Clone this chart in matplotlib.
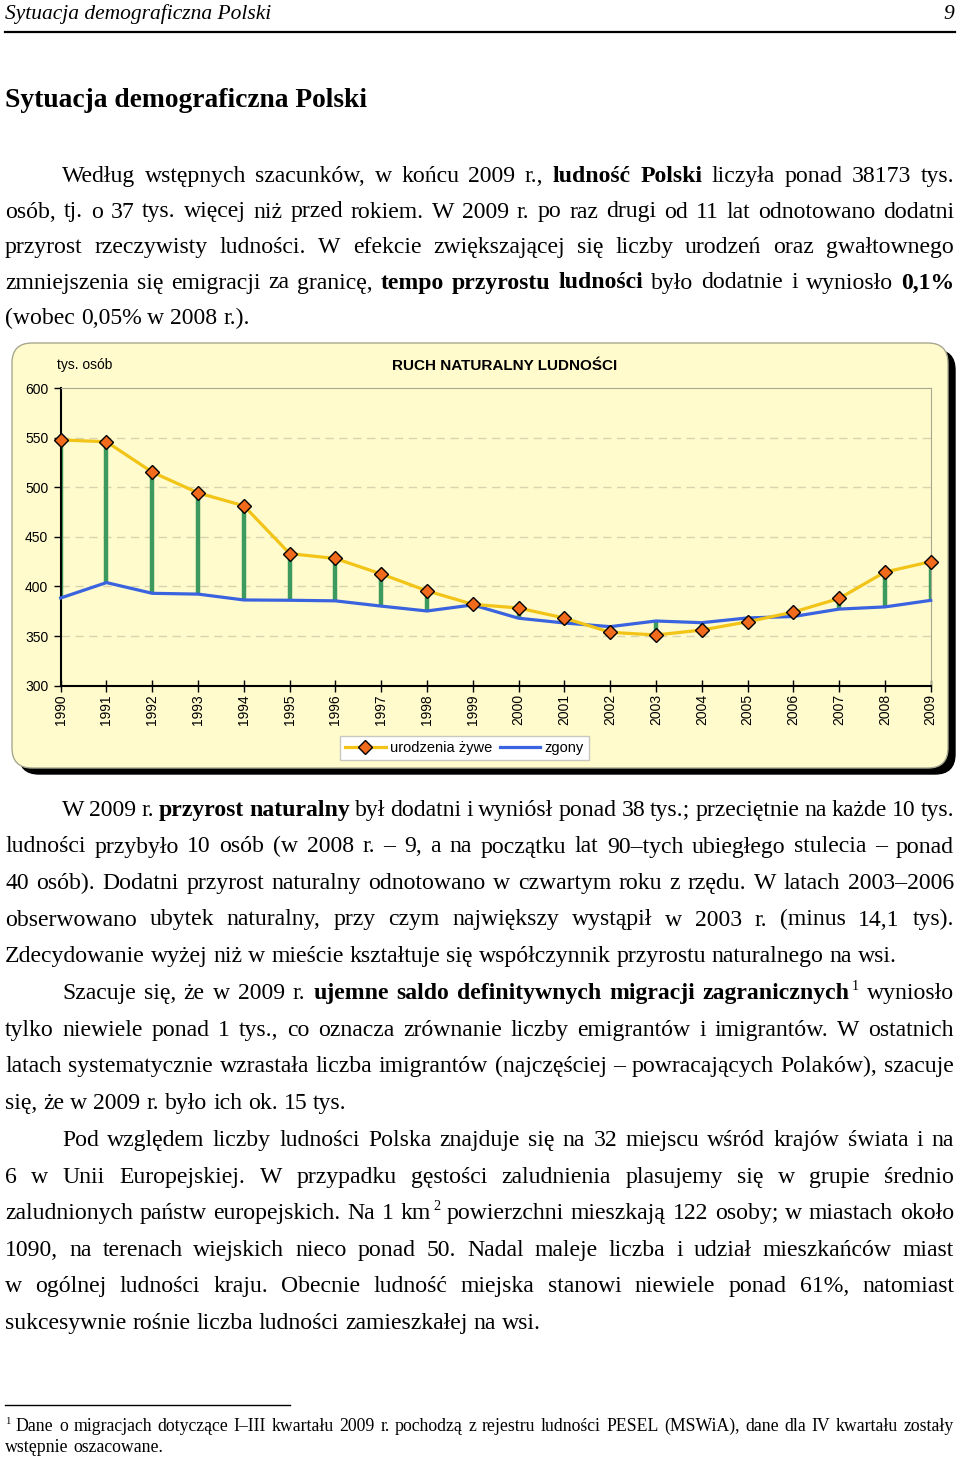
import matplotlib
matplotlib.use("Agg")
import matplotlib.pyplot as plt
from matplotlib.patches import FancyBboxPatch
from matplotlib.lines import Line2D

lata = list(range(1990, 2010))
urodzenia = [547.7, 545.8, 515.2, 494.3, 481.3, 433.1, 428.2, 412.6, 395.6, 382.0,
             378.3, 368.2, 353.8, 351.1, 356.1, 364.4, 374.2, 387.9, 414.5, 425.0]
zgony = [388.4, 403.9, 393.1, 392.3, 386.4, 386.1, 385.5, 380.2, 375.3, 381.4,
         368.0, 363.2, 359.5, 365.2, 363.5, 368.3, 369.7, 377.2, 379.4, 386.0]
y_ticki = [300, 350, 400, 450, 500, 550, 600]

akapit1 = [
    "Według wstępnych szacunków, w końcu 2009 r., **ludność Polski** liczyła ponad 38173 tys.",
    "osób, tj. o 37 tys. więcej niż przed rokiem. W 2009 r. po raz drugi od 11 lat odnotowano dodatni",
    "przyrost rzeczywisty ludności. W efekcie zwiększającej się liczby urodzeń oraz gwałtownego",
    "zmniejszenia się emigracji za granicę, **tempo przyrostu ludności** było dodatnie i wyniosło **0,1%**",
    "(wobec 0,05% w 2008 r.).",
]
akapit2 = [
    "W 2009 r. **przyrost naturalny** był dodatni i wyniósł ponad 38 tys.; przeciętnie na każde 10 tys.",
    "ludności przybyło 10 osób (w 2008 r. – 9, a na początku lat 90–tych ubiegłego stulecia – ponad",
    "40 osób). Dodatni przyrost naturalny odnotowano w czwartym roku z rzędu. W latach 2003–2006",
    "obserwowano ubytek naturalny, przy czym największy wystąpił w 2003 r. (minus 14,1 tys).",
    "Zdecydowanie wyżej niż w mieście kształtuje się współczynnik przyrostu naturalnego na wsi.",
]
akapit3 = [
    "Szacuje się, że w 2009 r. **ujemne saldo definitywnych migracji zagranicznych** ^1 wyniosło",
    "tylko niewiele ponad 1 tys., co oznacza zrównanie liczby emigrantów i imigrantów. W ostatnich",
    "latach systematycznie wzrastała liczba imigrantów (najczęściej – powracających Polaków), szacuje",
    "się, że w 2009 r. było ich ok. 15 tys.",
]
akapit4 = [
    "Pod względem liczby ludności Polska znajduje się na 32 miejscu wśród krajów świata i na",
    "6 w Unii Europejskiej. W przypadku gęstości zaludnienia plasujemy się w grupie średnio",
    "zaludnionych państw europejskich. Na 1 km ^2 powierzchni mieszkają 122 osoby; w miastach około",
    "1090, na terenach wiejskich nieco ponad 50. Nadal maleje liczba i udział mieszkańców miast",
    "w ogólnej ludności kraju. Obecnie ludność miejska stanowi niewiele ponad 61%, natomiast",
    "sukcesywnie rośnie liczba ludności zamieszkałej na wsi.",
]
przypis = [
    "^1 Dane o migracjach dotyczące I–III kwartału 2009 r. pochodzą z rejestru ludności PESEL (MSWiA), dane dla IV kwartału zostały",
    "wstępnie oszacowane.",
]

fig = plt.figure(figsize=(9.6, 14.59), dpi=100)
fig.patch.set_facecolor("white")
page = fig.add_axes([0, 0, 1, 1])
page.set_xlim(0, 960)
page.set_ylim(1459, 0)
page.axis("off")
renderer = fig.canvas.get_renderer()

SERIF = "Liberation Serif"


def linia(tekst, y, x0, x1, size, justuj=True):
    slowa = []
    czesci = tekst.split("**")
    for i, c in enumerate(czesci):
        for w in c.split():
            slowa.append((w, i % 2 == 1))
    arts = []
    for w, b in slowa:
        if w.startswith("^"):
            t = page.text(0, y - size * 0.55, w[1:], fontsize=size * 0.6,
                          family=SERIF, va="baseline", ha="left")
            arts.append((t, True))
        else:
            t = page.text(0, y, w, fontsize=size, family=SERIF,
                          fontweight="bold" if b else "normal",
                          va="baseline", ha="left")
            arts.append((t, False))
    szer = [t.get_window_extent(renderer).width for t, _ in arts]
    n_gap = sum(1 for _, sup in arts[1:] if not sup)
    n_sup = sum(1 for _, sup in arts[1:] if sup)
    spacja = 0.25 * size * 100 / 72
    if justuj and n_gap > 0:
        gap = (x1 - x0 - sum(szer) - 2 * n_sup) / n_gap
    else:
        gap = spacja
    x = x0
    for k, ((t, sup), s) in enumerate(zip(arts, szer)):
        if k > 0 and not sup:
            x += gap
        if sup and k > 0:
            x += 2
        t.set_x(x)
        x += s


def akapit(linie, y0, krok, size=17.1, wciecie=62):
    for i, l in enumerate(linie):
        ostatnia = i == len(linie) - 1
        linia(l, y0 + i * krok, wciecie if i == 0 else 5, 954, size, justuj=not ostatnia)


# naglowek strony
page.text(5, 19, "Sytuacja demograficzna Polski", fontsize=15.5, family=SERIF,
          style="italic", va="baseline")
page.text(954, 19, "9", fontsize=15.5, family=SERIF, style="italic", va="baseline", ha="right")
page.plot([5, 955], [31.5, 31.5], color="black", lw=1.6)
page.text(5, 107, "Sytuacja demograficzna Polski", fontsize=19.8, family=SERIF,
          fontweight="bold", va="baseline")

akapit(akapit1, 182, 35.5)
akapit(akapit2, 816, 36.5)
akapit(akapit3, 999, 36.6)
akapit(akapit4, 1146, 36.6)

page.plot([5, 290], [1405, 1405], color="black", lw=1)
linia(przypis[0], 1431, 5, 954, 12.8)
linia(przypis[1], 1452, 5, 954, 12.8, justuj=False)

# ramka wykresu
page.add_patch(FancyBboxPatch((19, 350), 936, 424, boxstyle="round,pad=0,rounding_size=20",
                              facecolor="black", edgecolor="black", zorder=1))
page.add_patch(FancyBboxPatch((12, 343), 936, 425, boxstyle="round,pad=0,rounding_size=20",
                              facecolor="#fffbcc", edgecolor="#a8a890", lw=1, zorder=2))

SANS = "Liberation Sans"
ax = fig.add_axes([60.7 / 960, 1 - 685.7 / 1459, 870 / 960, 297.7 / 1459])
ax.patch.set_alpha(0)
ax.set_xlim(1990, 2009)
ax.set_ylim(300, 600)
ax.set_yticks(y_ticki)
ax.set_xticks(lata)
ax.set_xticklabels([str(r) for r in lata], rotation=90, fontsize=10, family=SANS)
ax.set_yticklabels([str(v) for v in y_ticki], fontsize=10, family=SANS)
ax.tick_params(axis="x", direction="inout", length=8, width=1, pad=2)
ax.tick_params(axis="y", direction="out", length=5, width=1, pad=4)
for v in y_ticki[1:-1]:
    ax.axhline(v, color="#d8d4b0", lw=1, ls=(0, (6, 4)), zorder=1)
for s in ["left", "bottom"]:
    ax.spines[s].set_color("black")
    ax.spines[s].set_linewidth(1.5)
for s in ["top", "right"]:
    ax.spines[s].set_color("#a8a890")
    ax.spines[s].set_linewidth(0.8)

ax.vlines(lata, zgony, urodzenia, color="#3c9a5e", lw=3.2, zorder=2)
ax.plot(lata, zgony, color="#3a63e0", lw=2.3, zorder=3, clip_on=False)
ax.plot(lata, urodzenia, color="#f2c418", lw=2.3, marker="D", markersize=7.5,
        markerfacecolor="#f26a1b", markeredgecolor="black", markeredgewidth=1,
        zorder=4, clip_on=False)

page.text(57, 369, "tys. osób", fontsize=10, family=SANS, va="baseline", zorder=5)
page.text(505, 370, "RUCH NATURALNY LUDNOŚCI", fontsize=11, family=SANS,
          fontweight="bold", va="baseline", ha="center", zorder=5)

uchwyty = [
    Line2D([], [], color="#f2c418", lw=2.3, marker="D", markersize=7.5,
           markerfacecolor="#f26a1b", markeredgecolor="black"),
    Line2D([], [], color="#3a63e0", lw=2.3),
]
leg = fig.legend(uchwyty, ["urodzenia żywe", "zgony"], loc="center",
                 bbox_to_anchor=(464.5 / 960, 1 - 748 / 1459), ncol=2,
                 prop={"family": SANS, "size": 10.5}, fancybox=False,
                 edgecolor="#c8c8c0", framealpha=1, borderpad=0.35,
                 handlelength=2.8, handletextpad=0.3, columnspacing=0.5)
leg.get_frame().set_linewidth(1)

fig.savefig("out.png", dpi=100)
